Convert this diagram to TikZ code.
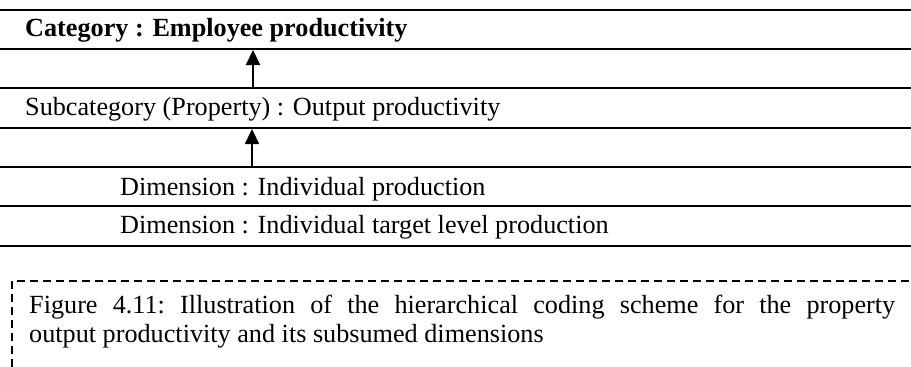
\documentclass[tikz,border=0pt]{standalone}
\usepackage{fontspec}
\setmainfont{Liberation Serif}
\usetikzlibrary{arrows.meta}
\begin{document}
\begin{tikzpicture}[x=1pt,y=-1pt,
  rule/.style={line width=2.4pt},
  lbl/.style={anchor=base west, inner sep=0pt, font=\fontsize{26.2}{30}\selectfont},
  up/.style={-{Triangle[width=14pt,length=15pt]}, line width=2.2pt},
  capbox/.style={line width=1.4pt, dash pattern=on 8pt off 5pt}]
\useasboundingbox (0,0) rectangle (911,367);
\clip (0,0) rectangle (911,367);
% horizontal rules of the table
\foreach \y/\n in {10/r0,49/r1,88/r2,128/r3,167/r4,206/r5,246/r6}{
  \coordinate (\n w) at (0,\y);
  \coordinate (\n e) at (911,\y);
  \draw[rule] (\n w) -- (\n e);
}
% row texts
\node[lbl, font=\fontsize{26.2}{30}\selectfont\bfseries] (cat) at (25,36) {Category : Employee productivity};
\node[lbl] (sub) at (25,115) {Subcategory (Property) : Output productivity};
\node[lbl] (dim1) at (120,195) {Dimension : Individual production};
\node[lbl] (dim2) at (120,233) {Dimension : Individual target level production};
% arrows between the levels
\coordinate (a1s) at (253,88);
\coordinate (a1e) at (253,50);
\coordinate (a2s) at (252,167);
\coordinate (a2e) at (252,129);
\draw[up] (a1s) -- (a1e);
\draw[up] (a2s) -- (a2e);
% caption in a dashed frame
\draw[capbox] (12,380) -- (12,281) -- (930,281);
\node[anchor=north west, inner sep=0pt, text width=866pt, align=justify,
      font=\fontsize{26.2}{28.5}\selectfont] (cap) at (29,295)
  {\frenchspacing\hyphenpenalty=10000 Figure 4.11: Illustration of the hierarchical coding scheme for the property\linebreak
   output productivity and its subsumed dimensions};
\end{tikzpicture}
\end{document}
